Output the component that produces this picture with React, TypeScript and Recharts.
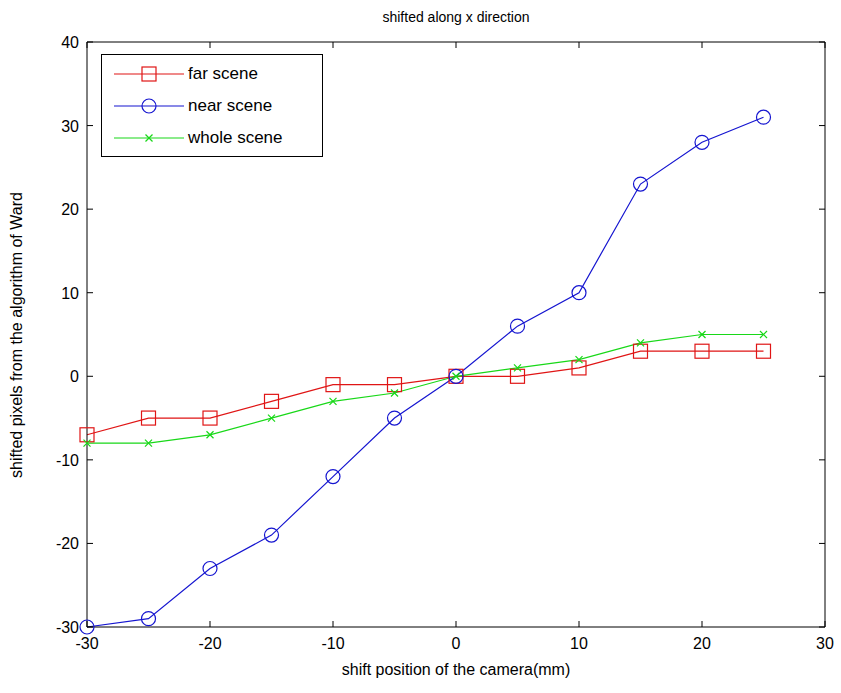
import { LineChart, Line, XAxis, YAxis } from "recharts";

const shifts = [-30, -25, -20, -15, -10, -5, 0, 5, 10, 15, 20, 25];
const farScene = [-7, -5, -5, -3, -1, -1, 0, 0, 1, 3, 3, 3];
const nearScene = [-30, -29, -23, -19, -12, -5, 0, 6, 10, 23, 28, 31];
const wholeScene = [-8, -8, -7, -5, -3, -2, 0, 1, 2, 4, 5, 5];

const xTicks = [-30, -20, -10, 0, 10, 20, 30];
const yTicks = [-30, -20, -10, 0, 10, 20, 30, 40];

const data = shifts.map((x, i) => ({
  x,
  far: farScene[i],
  near: nearScene[i],
  whole: wholeScene[i],
}));

const FONT = "'Liberation Sans', Arial, sans-serif";
const RED = "#e01515";
const BLUE = "#1515d0";
const GREEN = "#18d818";
const TICK = 6;

const BottomTick = (p: any) => (
  <g>
    <line x1={p.x} y1={p.y} x2={p.x} y2={p.y - TICK} stroke="#000" />
    <text x={p.x} y={p.y + 22} textAnchor="middle" fontSize={16} fontFamily={FONT} fill="#000">
      {p.payload.value}
    </text>
  </g>
);
const TopTick = (p: any) => <line x1={p.x} y1={p.y} x2={p.x} y2={p.y + TICK} stroke="#000" />;
const LeftTick = (p: any) => (
  <g>
    <line x1={p.x} y1={p.y} x2={p.x + TICK} y2={p.y} stroke="#000" />
    <text x={p.x - 8} y={p.y + 6} textAnchor="end" fontSize={16} fontFamily={FONT} fill="#000">
      {p.payload.value}
    </text>
  </g>
);
const RightTick = (p: any) => <line x1={p.x} y1={p.y} x2={p.x - TICK} y2={p.y} stroke="#000" />;

const Square = (p: any) => (
  <rect key={p.index} x={p.cx - 7} y={p.cy - 7} width={14} height={14} fill="none" stroke={RED} strokeWidth={1.2} />
);
const Circle = (p: any) => (
  <circle key={p.index} cx={p.cx} cy={p.cy} r={7} fill="none" stroke={BLUE} strokeWidth={1.2} />
);
const Cross = (p: any) => (
  <g key={p.index} stroke={GREEN} strokeWidth={1.2}>
    <line x1={p.cx - 3.5} y1={p.cy - 3.5} x2={p.cx + 3.5} y2={p.cy + 3.5} />
    <line x1={p.cx - 3.5} y1={p.cy + 3.5} x2={p.cx + 3.5} y2={p.cy - 3.5} />
  </g>
);

const legendItems = [
  { label: "far scene", color: RED, kind: "square" },
  { label: "near scene", color: BLUE, kind: "circle" },
  { label: "whole scene", color: GREEN, kind: "cross" },
];

const LegendBox = () => (
  <div
    style={{
      position: "absolute",
      left: 101,
      top: 54,
      border: "1px solid #000",
      background: "#fff",
      width: 222,
      height: 103,
      boxSizing: "border-box",
      paddingTop: 3,
      fontFamily: FONT,
      fontSize: 17,
    }}
  >
    {legendItems.map((it) => (
      <div key={it.label} style={{ display: "flex", alignItems: "center", height: 32 }}>
        <svg width={88} height={20} style={{ marginLeft: 10 }}>
          <line x1={2} y1={10} x2={72} y2={10} stroke={it.color} strokeWidth={1.2} />
          {it.kind === "square" && <rect x={30} y={3} width={14} height={14} fill="none" stroke={it.color} strokeWidth={1.2} />}
          {it.kind === "circle" && <circle cx={37} cy={10} r={7} fill="none" stroke={it.color} strokeWidth={1.2} />}
          {it.kind === "cross" && (
            <g stroke={it.color} strokeWidth={1.2}>
              <line x1={33.5} y1={6.5} x2={40.5} y2={13.5} />
              <line x1={33.5} y1={13.5} x2={40.5} y2={6.5} />
            </g>
          )}
        </svg>
        <span style={{ marginLeft: -12, color: "#000" }}>{it.label}</span>
      </div>
    ))}
  </div>
);

export default function App() {
  return (
    <div style={{ position: "absolute", left: 0, top: 0, width: 841, height: 693, background: "#fff" }}>
      <LineChart width={841} height={693} data={data} margin={{ top: 41, right: 15, bottom: 0, left: 0 }}>
        <XAxis
          dataKey="x"
          type="number"
          domain={[-30, 30]}
          ticks={xTicks}
          height={66}
          tickSize={0}
          tickMargin={0}
          tickLine={false}
          stroke="#000"
          tick={<BottomTick />}
          interval={0}
        />
        <XAxis
          xAxisId="top"
          dataKey="x"
          orientation="top"
          type="number"
          domain={[-30, 30]}
          ticks={xTicks}
          height={1}
          tickSize={0}
          tickMargin={0}
          tickLine={false}
          stroke="#000"
          tick={<TopTick />}
          interval={0}
        />
        <YAxis
          type="number"
          domain={[-30, 40]}
          ticks={yTicks}
          width={87}
          tickSize={0}
          tickMargin={0}
          tickLine={false}
          stroke="#000"
          tick={<LeftTick />}
          interval={0}
        />
        <YAxis
          yAxisId="right"
          orientation="right"
          type="number"
          domain={[-30, 40]}
          ticks={yTicks}
          width={1}
          tickSize={0}
          tickMargin={0}
          tickLine={false}
          stroke="#000"
          tick={<RightTick />}
          interval={0}
        />
        <Line xAxisId="top" yAxisId="right" dataKey="far" stroke="none" dot={false} legendType="none" isAnimationActive={false} />
        <Line type="linear" dataKey="far" stroke={RED} strokeWidth={1.2} dot={<Square />} isAnimationActive={false} />
        <Line type="linear" dataKey="near" stroke={BLUE} strokeWidth={1.2} dot={<Circle />} isAnimationActive={false} />
        <Line type="linear" dataKey="whole" stroke={GREEN} strokeWidth={1.2} dot={<Cross />} isAnimationActive={false} />
        <text x={456} y={22} textAnchor="middle" fontSize={14} fontFamily={FONT} fill="#000">
          shifted along x direction
        </text>
        <text x={456} y={675} textAnchor="middle" fontSize={16} fontFamily={FONT} fill="#000">
          shift position of the camera(mm)
        </text>
        <text
          x={22}
          y={335}
          textAnchor="middle"
          fontSize={16}
          fontFamily={FONT}
          fill="#000"
          transform="rotate(-90 22 335)"
        >
          shifted pixels from the algorithm of Ward
        </text>
      </LineChart>
      <LegendBox />
    </div>
  );
}
